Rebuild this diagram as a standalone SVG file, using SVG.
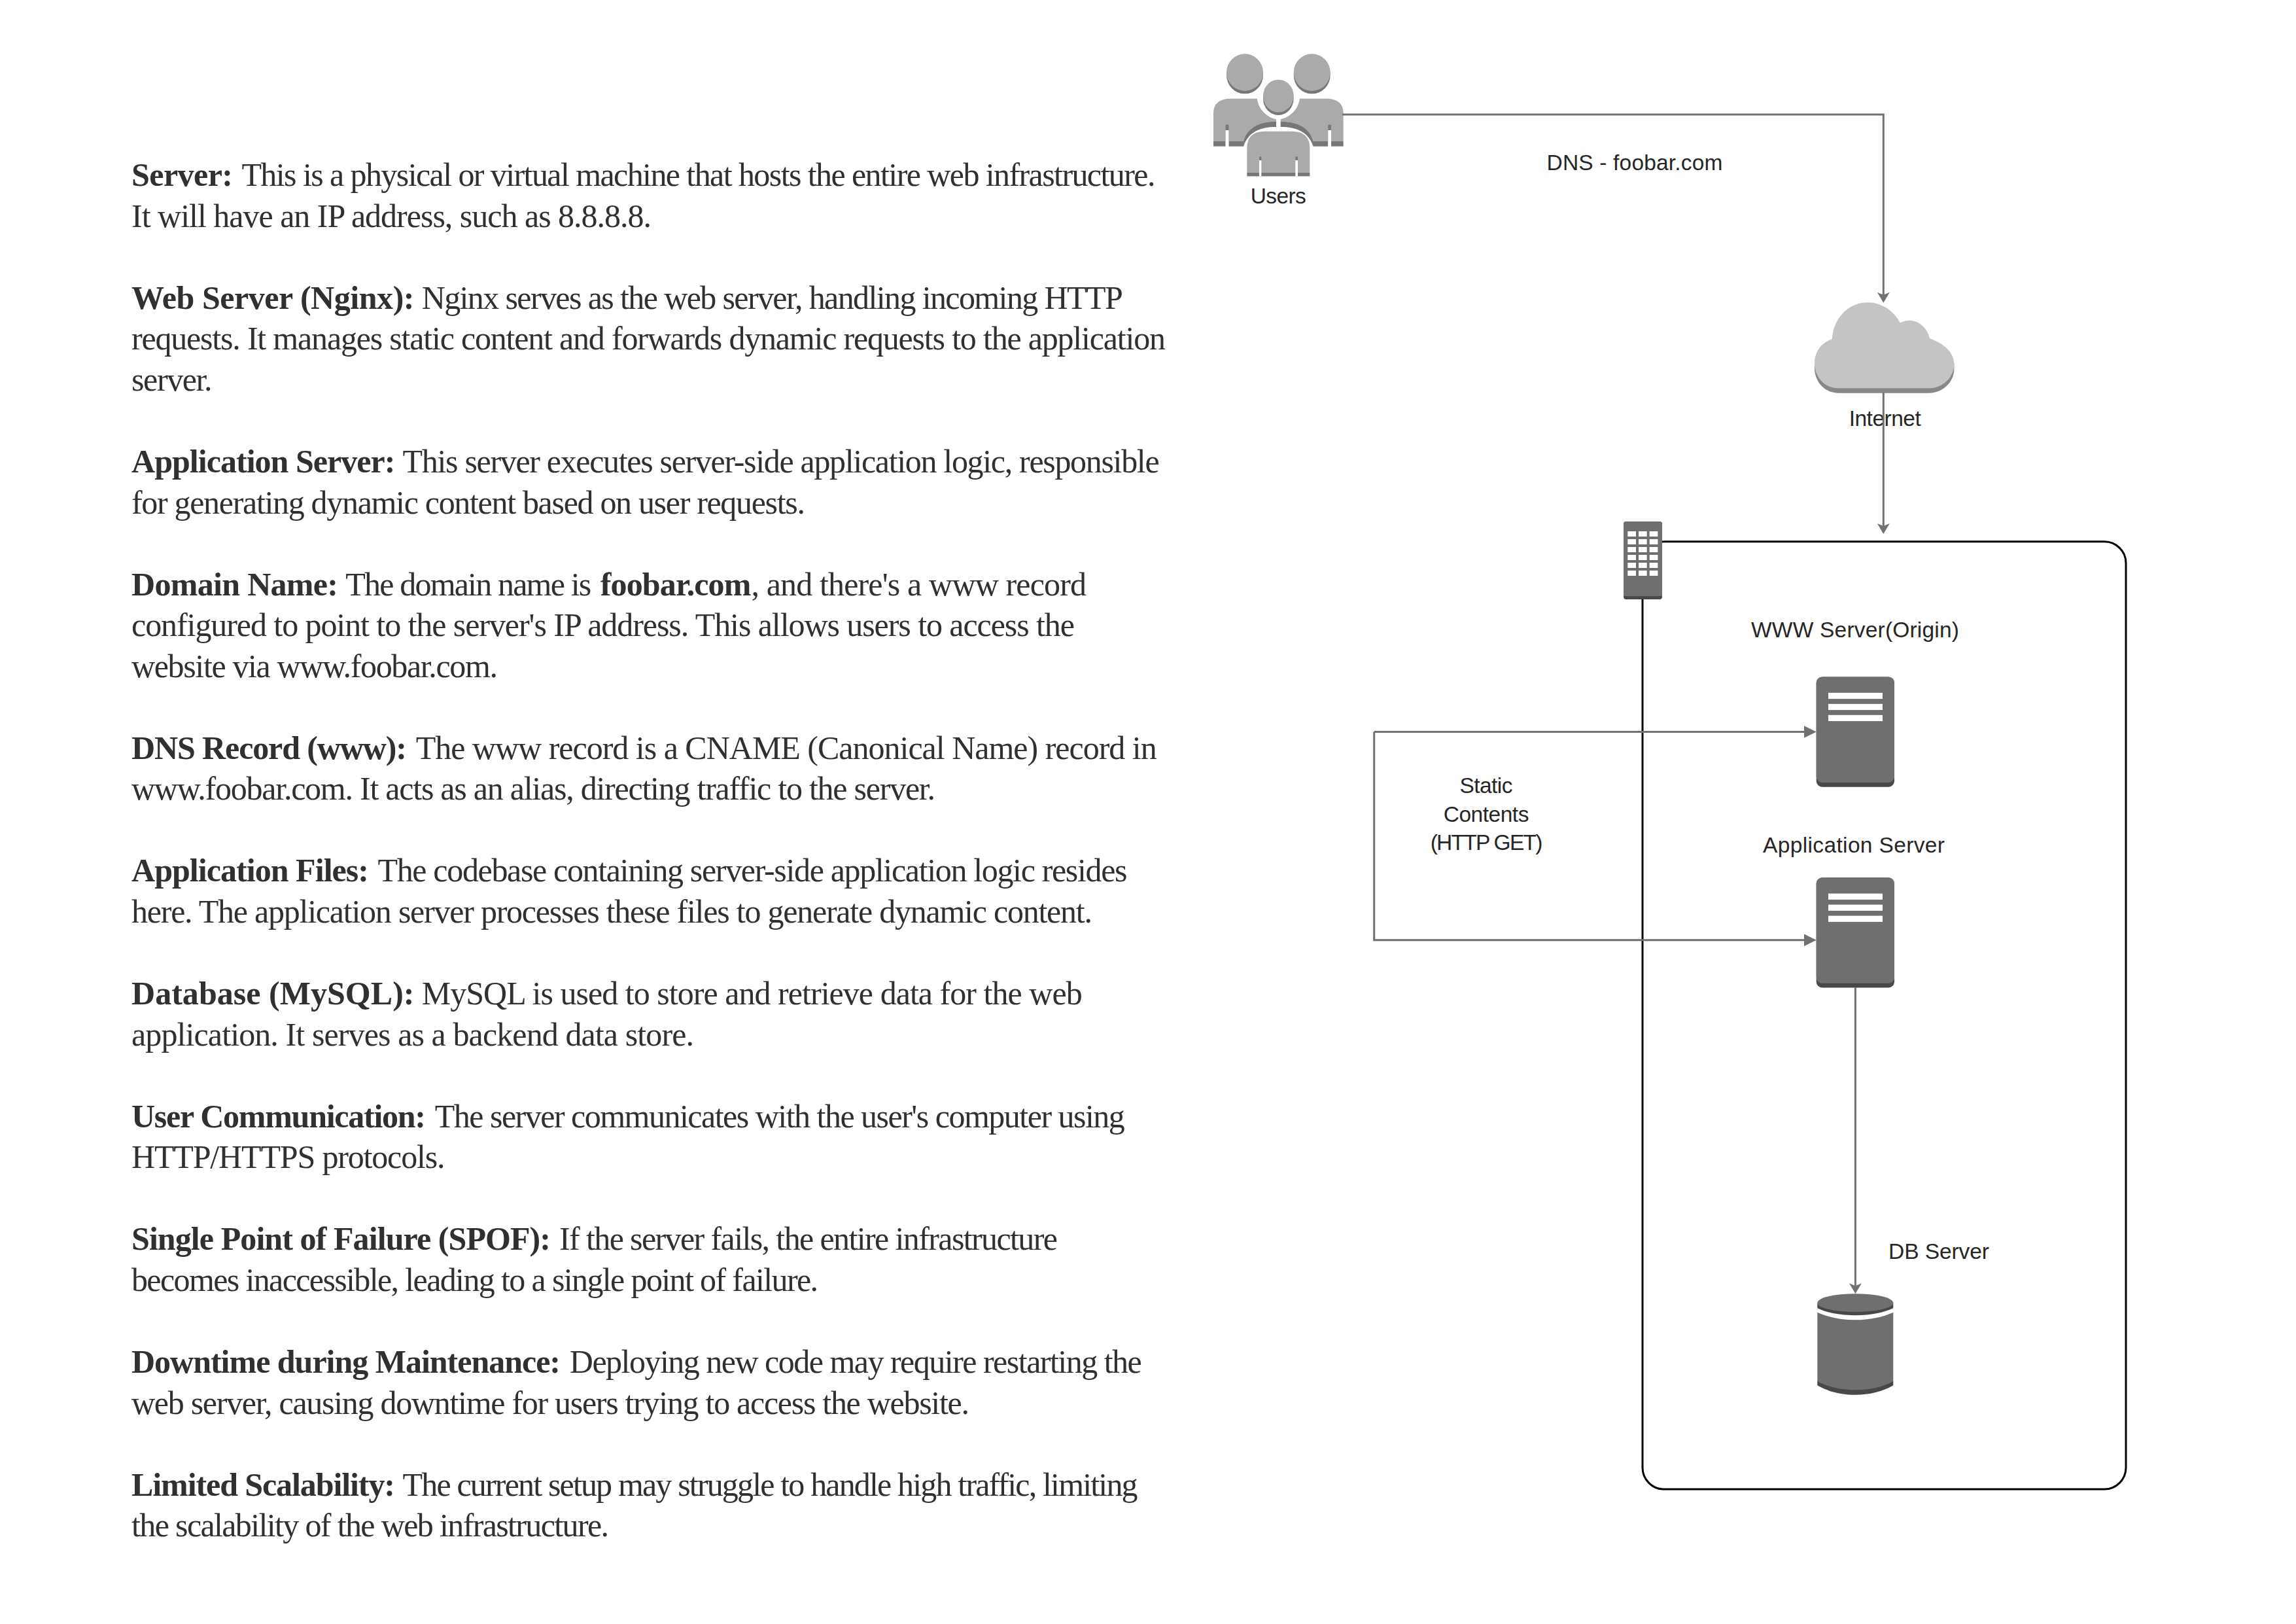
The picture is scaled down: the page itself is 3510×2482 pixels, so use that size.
<svg xmlns="http://www.w3.org/2000/svg" width="3510" height="2482" viewBox="0 0 3510 2482">
<style>
.n{font-family:"Liberation Serif","Times New Roman",serif;font-size:50px;fill:#303030}
.b{font-weight:700}
.l{font-family:"Liberation Sans",Arial,sans-serif;font-size:33.5px;fill:#262626}
.c{fill:none;stroke:#707173;stroke-width:3}
.s{fill:#6e6f71}.d{fill:#47484a}.w{fill:#fff}
.ul{fill:#aaaaaa}.ud{fill:#777777}
</style>
<defs>
<marker id="a" markerUnits="userSpaceOnUse" markerWidth="20" markerHeight="20" refX="8" refY="9.5" orient="auto"><path d="M0,0 L16,9.5 L0,19 L4,9.5 Z" fill="#707173"/></marker>
<marker id="f" markerUnits="userSpaceOnUse" markerWidth="20" markerHeight="20" refX="11" refY="9.4" orient="auto"><path d="M0,0 L19,9.4 L0,18.8 Z" fill="#707173"/></marker>
<g id="srv">
<rect x="0" y="0" width="119.3" height="168.2" rx="9" class="d"/>
<path d="M9,0 H110.3 A9,9 0 0 1 119.3,9 V152.5 A9,9 0 0 1 110.3,161.5 H9 A9,9 0 0 1 0,152.5 V9 A9,9 0 0 1 9,0 Z" class="s"/>
<rect x="18.3" y="24.3" width="83" height="9.3" class="w"/>
<rect x="18.3" y="41.3" width="83" height="9.3" class="w"/>
<rect x="18.3" y="58.3" width="83" height="9.3" class="w"/>
</g>
<g id="ub">
<path class="ul" d="M15,437 V310 Q15,242 95,242 H215 C222,290 255,325 303,337 V347 C225,347 170,375 153,437 Z"/>
<path class="ud" d="M303,347 V372 C230,372 175,395 153,461 H85 V437 H153 C170,375 225,347 303,347 Z"/>
<rect class="ud" x="15" y="437" width="56" height="24"/>
<rect class="ud" x="71" y="362" width="14" height="25"/>
<rect class="w" x="71" y="387" width="14" height="74"/>
<ellipse class="ud" cx="159" cy="134" rx="84" ry="86"/>
<ellipse class="ul" cx="159" cy="122" rx="84" ry="85"/>
</g>
</defs>
<rect width="3510" height="2482" fill="#fff"/>
<g id="frame"><rect x="2511" y="827.7" width="739" height="1448.3" rx="33" fill="none" stroke="#000" stroke-width="3"/></g>
<g id="users">
<g transform="translate(1850,70) scale(.33333)">
<use href="#ub"/><use href="#ub" transform="matrix(-1 0 0 1 626 0)"/>
<ellipse class="ud" cx="313" cy="242" rx="70" ry="76"/>
<ellipse class="ul" cx="313" cy="230" rx="70" ry="75"/>
<path class="ul" d="M169,582 V470 Q169,392 250,392 H376 Q457,392 457,470 V582 Z"/>
<rect class="ud" x="169" y="582" width="288" height="16"/>
<rect class="ud" x="225" y="508" width="10" height="17"/><rect class="w" x="225" y="525" width="10" height="73"/>
<rect class="ud" x="391" y="508" width="11" height="17"/><rect class="w" x="391" y="525" width="11" height="73"/>
</g>
<text class="l" x="1911.7" y="311" textLength="85">Users</text>
</g>
<g id="internet">
<g transform="translate(2760,440) scale(.33333)">
<path fill="#888889" d="M150,482 C90,482 42,432 42,367 V345 H682 V372 C682,432 630,482 565,482 Z"/>
<path fill="#c3c4c6" d="M150,460 C90,460 42,410 42,345 C42,290 75,250 122,235 C130,130 205,67 285,67 C350,67 405,105 435,160 C490,130 555,165 570,232 C635,255 682,295 682,350 C682,410 630,460 565,460 Z"/>
</g>
<text class="l" x="2826.7" y="651" textLength="110">Internet</text>
</g>
<g id="connectors">
<path class="c" marker-end="url(#a)" d="M2052,175 H2879.3 V454.7"/>
<path class="c" marker-end="url(#a)" d="M2879.3,600 V808"/>
<path class="c" marker-end="url(#f)" d="M2100.7,1118.5 H2768.7"/>
<path class="c" marker-end="url(#f)" d="M2100.7,1118.5 V1436.7 H2768.7"/>
<path class="c" marker-end="url(#a)" d="M2836.4,1509.5 V1969.3"/>
</g>
<g id="building">
<rect x="2482" y="797" width="59" height="119" rx="4" fill="#47484a"/>
<path class="s" d="M2486,797 H2537 A4,4 0 0 1 2541,801 V911 H2482 V801 A4,4 0 0 1 2486,797 Z"/>
<g class="w">
<rect x="2488.3" y="812" width="12.7" height="8"/><rect x="2505" y="812" width="12.7" height="8"/><rect x="2521.7" y="812" width="12.7" height="8"/>
<rect x="2488.3" y="824" width="12.7" height="8"/><rect x="2505" y="824" width="12.7" height="8"/><rect x="2521.7" y="824" width="12.7" height="8"/>
<rect x="2488.3" y="836" width="12.7" height="8"/><rect x="2505" y="836" width="12.7" height="8"/><rect x="2521.7" y="836" width="12.7" height="8"/>
<rect x="2488.3" y="848" width="12.7" height="8"/><rect x="2505" y="848" width="12.7" height="8"/><rect x="2521.7" y="848" width="12.7" height="8"/>
<rect x="2488.3" y="860" width="12.7" height="8"/><rect x="2505" y="860" width="12.7" height="8"/><rect x="2521.7" y="860" width="12.7" height="8"/>
<rect x="2488.3" y="872" width="12.7" height="8"/><rect x="2505" y="872" width="12.7" height="8"/><rect x="2521.7" y="872" width="12.7" height="8"/>
</g>
</g>
<g id="www-server">
<text class="l" x="2677" y="974" textLength="318">WWW Server(Origin)</text>
<use href="#srv" x="2776.7" y="1034.5"/>
</g>
<g id="app-server">
<text class="l" x="2695" y="1303" textLength="278">Application Server</text>
<use href="#srv" x="2776.7" y="1341.3"/>
</g>
<g id="db-server">
<text class="l" x="2887" y="1924" textLength="154">DB Server</text>
<path class="d" d="M2778.3,1991.7 V1999.3 C2792,2006 2812,2010.3 2836.3,2010.3 C2860,2010.3 2880,2006 2894.3,1999.3 V1991.7 Z"/>
<ellipse class="s" cx="2836.3" cy="1991.2" rx="58" ry="13.9"/>
<path class="s" d="M2778.3,2005.7 C2795,2013 2815,2017.3 2836.3,2017.3 C2858,2017.3 2878,2013 2894.3,2005.7 V2112 C2878,2120 2858,2126 2836.3,2126 C2815,2126 2795,2120 2778.3,2112 Z"/>
<path class="d" d="M2778.3,2111 C2795,2120 2815,2124.3 2836.3,2124.3 C2858,2124.3 2878,2120 2894.3,2111 V2117.3 C2878,2127 2858,2131.7 2836.3,2131.7 C2815,2131.7 2795,2127 2778.3,2117.3 Z"/>
</g>
<g id="connector-labels">
<text class="l" x="2364.5" y="260" textLength="269">DNS - foobar.com</text>
<text class="l" x="2231.5" y="1211.5" textLength="81">Static</text>
<text class="l" x="2206.7" y="1255.5" textLength="130.7">Contents</text>
<text class="l" x="2186.7" y="1298.8" textLength="171.7">(HTTP GET)</text>
</g>
<g id="notes">
<text class="n" y="283.5"><tspan class="b" x="201" textLength="155">Server:</tspan><tspan x="369.4" textLength="1397">This is a physical or virtual machine that hosts the entire web infrastructure.</tspan></text>
<text class="n" x="201" y="346.5" textLength="795">It will have an IP address, such as 8.8.8.8.</text>
<text class="n" y="471.5"><tspan class="b" x="201" textLength="432.5">Web Server (Nginx):</tspan><tspan x="644.7" textLength="1072">Nginx serves as the web server, handling incoming HTTP</tspan></text>
<text class="n" x="201" y="534.2" textLength="1581">requests. It manages static content and forwards dynamic requests to the application</text>
<text class="n" x="201" y="596.8" textLength="123.6">server.</text>
<text class="n" y="722"><tspan class="b" x="201" textLength="403.4">Application Server:</tspan><tspan x="615.6" textLength="1157">This server executes server-side application logic, responsible</tspan></text>
<text class="n" x="201" y="784.5" textLength="1030">for generating dynamic content based on user requests.</text>
<text class="n" y="909.5"><tspan class="b" x="201" textLength="316">Domain Name:</tspan><tspan x="528.3" textLength="376">The domain name is</tspan><tspan class="b" x="917.8" textLength="230.6">foobar.com</tspan><tspan x="1148.4" textLength="512.6">, and there's a www record</tspan></text>
<text class="n" x="201" y="972" textLength="1442">configured to point to the server's IP address. This allows users to access the</text>
<text class="n" x="201" y="1034.6" textLength="560">website via www.foobar.com.</text>
<text class="n" y="1159.7"><tspan class="b" x="201" textLength="421">DNS Record (www):</tspan><tspan x="635.7" textLength="1133">The www record is a CNAME (Canonical Name) record in</tspan></text>
<text class="n" x="201" y="1222.3" textLength="1229">www.foobar.com. It acts as an alias, directing traffic to the server.</text>
<text class="n" y="1347.4"><tspan class="b" x="201" textLength="363">Application Files:</tspan><tspan x="577.5" textLength="1146">The codebase containing server-side application logic resides</tspan></text>
<text class="n" x="201" y="1409.9" textLength="1469">here. The application server processes these files to generate dynamic content.</text>
<text class="n" y="1535"><tspan class="b" x="201" textLength="432.5">Database (MySQL):</tspan><tspan x="644.7" textLength="1010">MySQL is used to store and retrieve data for the web</tspan></text>
<text class="n" x="201" y="1597.6" textLength="860">application. It serves as a backend data store.</text>
<text class="n" y="1722.7"><tspan class="b" x="201" textLength="450">User Communication:</tspan><tspan x="664.8" textLength="1055">The server communicates with the user's computer using</tspan></text>
<text class="n" x="201" y="1785.2" textLength="479.5">HTTP/HTTPS protocols.</text>
<text class="n" y="1910.3"><tspan class="b" x="201" textLength="641">Single Point of Failure (SPOF):</tspan><tspan x="855" textLength="762">If the server fails, the entire infrastructure</tspan></text>
<text class="n" x="201" y="1972.9" textLength="1050">becomes inaccessible, leading to a single point of failure.</text>
<text class="n" y="2098"><tspan class="b" x="201" textLength="656">Downtime during Maintenance:</tspan><tspan x="870.8" textLength="875">Deploying new code may require restarting the</tspan></text>
<text class="n" x="201" y="2160.5" textLength="1281">web server, causing downtime for users trying to access the website.</text>
<text class="n" y="2285.6"><tspan class="b" x="201" textLength="403">Limited Scalability:</tspan><tspan x="615.6" textLength="1124">The current setup may struggle to handle high traffic, limiting</tspan></text>
<text class="n" x="201" y="2348.2" textLength="730">the scalability of the web infrastructure.</text>
</g>
</svg>
